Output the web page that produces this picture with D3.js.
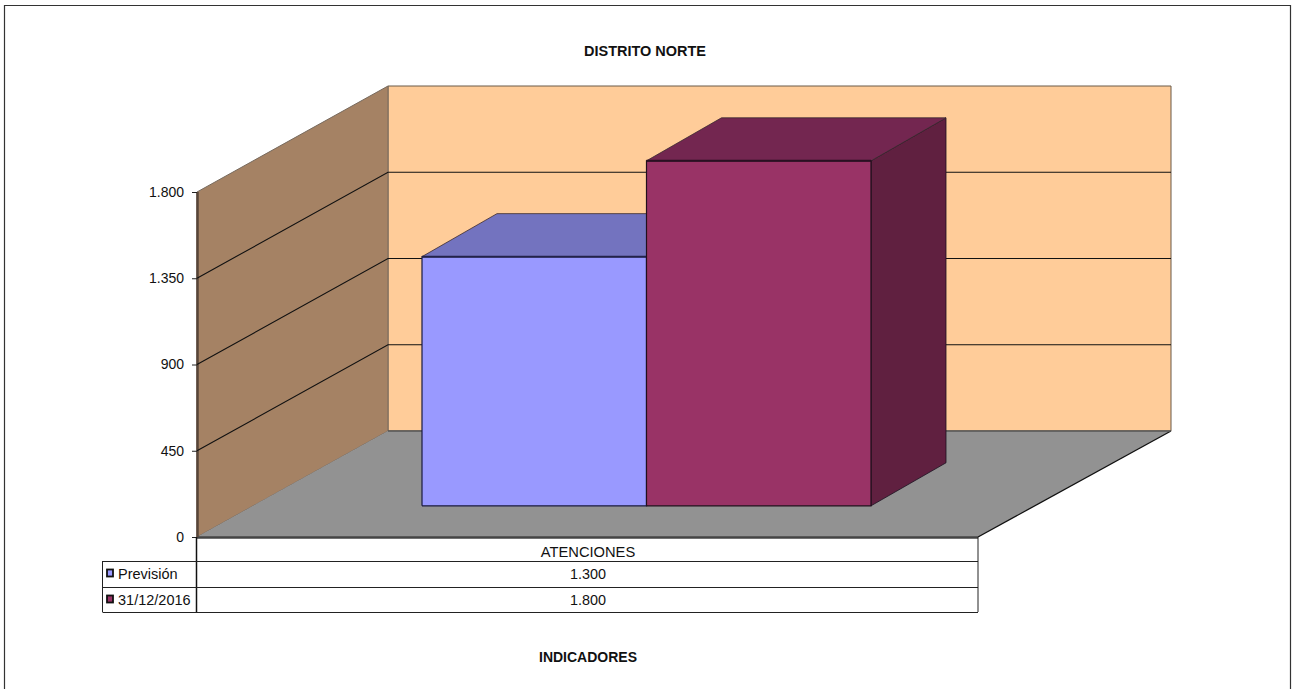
<!DOCTYPE html>
<html><head><meta charset="utf-8">
<script src="https://cdn.jsdelivr.net/npm/d3@7"></script>
<style>html,body{margin:0;padding:0;background:#fff;overflow:hidden}svg{display:block}text{font-family:"Liberation Sans",Arial,sans-serif;fill:#111}</style>
</head><body><div id="c"></div>
<script>
const titleText = "DISTRITO NORTE";
const xAxisTitle = "INDICADORES";
const category = "ATENCIONES";
const seriesNames = ["Previsión", "31/12/2016"];
const seriesValues = [1300, 1800];
const tickValues = [0, 450, 900, 1350, 1800];
const seriesColors = ["#9999ff", "#993366"];
const topColors = ["#7373bf", "#732650"];
const sideColors = ["#4d4d80", "#602040"];

const W = 1292, H = 689;
const svg = d3.select("#c").append("svg").attr("width", W).attr("height", H);
const fmt = v => d3.format(",")(v).replace(/,/g, ".");

const y = d3.scaleLinear().domain([0, 1800]).range([537, 192]);
const plotL = 197, plotR = 978, depthX = 191, depthY = 106;
const barDX = 75, barDY = 43, barBase = 505.8;
const x = d3.scaleBand().domain(seriesNames).range([422, 871]).padding(0);
const line = d3.line();

// frame
svg.append("path").attr("d", "M4.5,689V5.5H1290.5V689").attr("fill", "none").attr("stroke", "#333").attr("stroke-width", 1.2);

// title
svg.append("text").attr("x", 645).attr("y", 56).attr("text-anchor", "middle")
  .attr("font-size", 14).attr("font-weight", "bold").attr("textLength", 122).attr("lengthAdjust", "spacingAndGlyphs").text(titleText);
svg.append("text").attr("x", 588).attr("y", 662).attr("text-anchor", "middle")
  .attr("font-size", 14).attr("font-weight", "bold").attr("textLength", 98).attr("lengthAdjust", "spacingAndGlyphs").text(xAxisTitle);

// back wall
svg.append("path").attr("d", line([[plotL + depthX, y(1800) - depthY], [plotR + 193, y(1800) - depthY], [plotR + 193, y(0) - depthY], [plotL + depthX, y(0) - depthY]]) + "Z")
  .attr("fill", "#ffcc99").attr("stroke", "#6b5a48").attr("stroke-width", 1);
// side wall
svg.append("path").attr("d", line([[plotL, y(0)], [plotL, y(1800)], [plotL + depthX, y(1800) - depthY], [plotL + depthX, y(0) - depthY]]) + "Z")
  .attr("fill", "#a58264").attr("stroke", "#776a5e").attr("stroke-width", 1);
// floor
svg.append("path").attr("d", line([[plotL, y(0)], [plotL + depthX, y(0) - depthY], [plotR + 193, y(0) - depthY], [plotR, y(0)]]) + "Z")
  .attr("fill", "#929292");
svg.append("path").attr("d", line([[plotR, y(0)], [plotR + 193, y(0) - depthY]])).attr("stroke", "#111").attr("stroke-width", 1.3).attr("fill", "none");
svg.append("path").attr("d", line([[plotL + depthX, y(0) - depthY], [plotR + 193, y(0) - depthY]])).attr("stroke", "#555").attr("stroke-width", 1.5).attr("fill", "none");
svg.append("path").attr("d", line([[plotL, y(0) + 0.5], [plotR, y(0) + 0.5]])).attr("stroke", "#444").attr("stroke-width", 2.5).attr("fill", "none");
svg.append("path").attr("d", line([[plotL + 0.5, y(0)], [plotL + 0.5, y(1800)]])).attr("stroke", "#574538").attr("stroke-width", 2.5).attr("fill", "none");

// gridlines
tickValues.filter(v => v > 0 && v < 1800).concat([1800]).forEach(v => {
  svg.append("path").attr("d", line([[plotL, y(v)], [plotL + depthX, y(v) - depthY], [plotR + 193, y(v) - depthY]]))
    .attr("fill", "none").attr("stroke", "#111").attr("stroke-width", 1.1)
    .attr("visibility", v === 1800 ? "hidden" : "visible");
});

// axis
const axis = d3.axisLeft(y).tickValues(tickValues).tickFormat(fmt).tickSize(5).tickPadding(8);
const gA = svg.append("g").attr("transform", `translate(${plotL},0)`).call(axis);
gA.select(".domain").remove();
gA.selectAll("line").attr("stroke", "#222");
gA.selectAll("text").attr("font-size", 14).attr("font-family", '"Liberation Sans",Arial,sans-serif').attr("fill", "#111");

// bars
seriesNames.forEach((s, i) => {
  const v = seriesValues[i];
  const x0 = x(s), x1 = x0 + x.bandwidth();
  const top = barBase - (y(0) - y(v));
  const g = svg.append("g");
  g.append("path").attr("d", line([[x1, barBase], [x1 + barDX, barBase - barDY], [x1 + barDX, top - barDY], [x1, top]]) + "Z")
    .attr("fill", sideColors[i]).attr("stroke", "#1a1020").attr("stroke-width", 0.8);
  g.append("path").attr("d", line([[x0, top], [x0 + barDX, top - barDY], [x1 + barDX, top - barDY], [x1, top]]) + "Z")
    .attr("fill", topColors[i]).attr("stroke", "#3a2a30").attr("stroke-width", 0.8);
  g.append("rect").attr("x", x0).attr("y", top).attr("width", x1 - x0).attr("height", barBase - top)
    .attr("fill", seriesColors[i]).attr("stroke", "none");
  g.append("path").attr("d", `M${x0},${barBase}V${top}H${x1}V${barBase}H${x0}`)
    .attr("fill", "none").attr("stroke", i ? "#220f1c" : "#1a1a40").attr("stroke-width", 1.2);
  g.append("path").attr("d", `M${x0},${top}H${x1}`)
    .attr("fill", "none").attr("stroke", i ? "#2a1022" : "#22224a").attr("stroke-width", 2);
});

// data table
const tblL = 102.5, tblR = 978, rows = [537, 561, 587, 612];
const t = svg.append("g").attr("stroke", "#222").attr("stroke-width", 1).attr("fill", "none");
t.append("path").attr("d", `M${plotL - 0.5},${rows[0]}V${rows[3]}`).attr("stroke-width", 1.5).attr("stroke", "#111");
t.append("path").attr("d", `M${tblR},${rows[0]}V${rows[3]}`);
[1, 2, 3].forEach(i => t.append("path").attr("d", `M${tblL},${rows[i] + .5}H${tblR}`));
t.append("path").attr("d", `M${tblL},${rows[1]}V${rows[3]}`);

const center = (plotL + plotR) / 2;
svg.append("text").attr("x", center + 0.5).attr("y", 557).attr("text-anchor", "middle").attr("font-size", 14.7).text(category);
seriesNames.forEach((s, i) => {
  const ty = rows[i + 1] + 18;
  svg.append("text").attr("x", center + 0.5).attr("y", ty).attr("text-anchor", "middle").attr("font-size", 14.4).text(fmt(seriesValues[i]));
  svg.append("text").attr("x", 118).attr("y", ty).attr("font-size", 14.5).text(s);
  svg.append("rect").attr("x", 107).attr("y", rows[i + 1] + 8.5).attr("width", 6).attr("height", 7)
    .attr("fill", seriesColors[i]).attr("stroke", "#111").attr("stroke-width", 1.8);
});
</script></body></html>
